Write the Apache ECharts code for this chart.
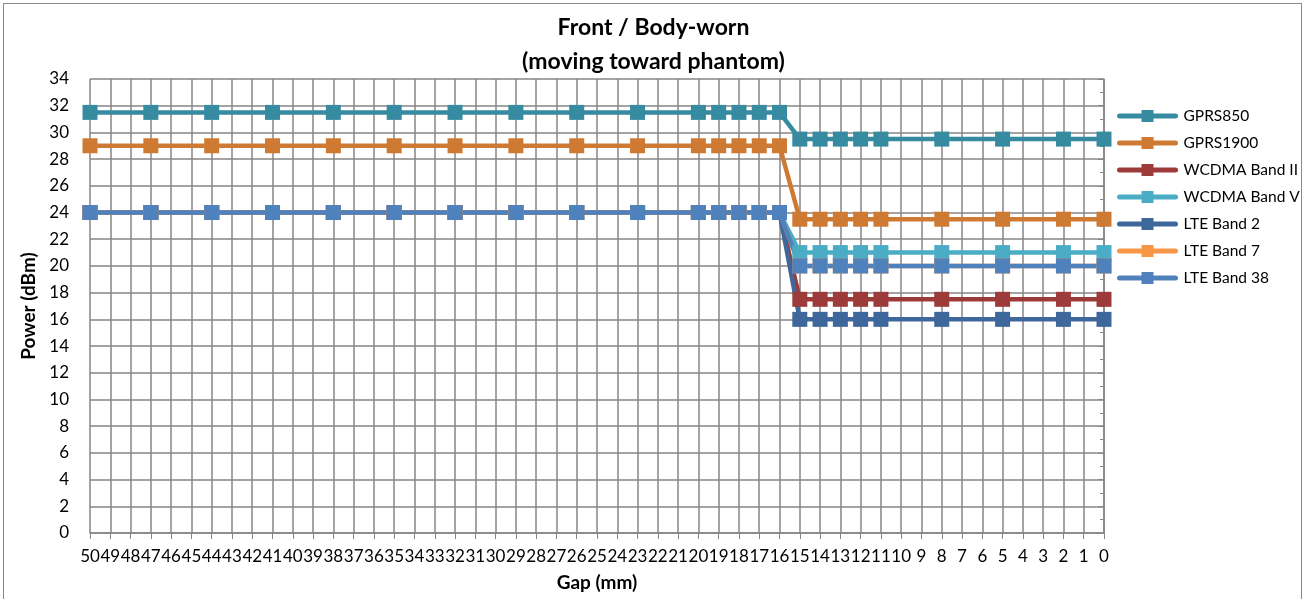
<!DOCTYPE html>
<html>
<head>
<meta charset="utf-8">
<script src="https://cdn.jsdelivr.net/npm/echarts@6/dist/echarts.min.js"></script>
<style>
html,body{margin:0;padding:0;background:#fff;}
#frame{position:absolute;left:3px;top:3px;width:1299px;height:600px;border:1.5px solid #8a8a8a;box-sizing:border-box;}
#chart{position:absolute;left:0;top:0;width:1307px;height:599px;}
</style>
</head>
<body>
<div id="frame"></div>
<div id="chart"></div>
<script>
// Gap values (mm) at which measurements were taken
const gaps = [50, 47, 44, 41, 38, 35, 32, 29, 26, 23, 20, 19, 18, 17, 16, 15, 14, 13, 12, 11, 8, 5, 2, 0];
const seriesNames = ['GPRS850', 'GPRS1900', 'WCDMA Band II', 'WCDMA Band V', 'LTE Band 2', 'LTE Band 7', 'LTE Band 38'];
const gprs850     = [31.5,31.5,31.5,31.5,31.5,31.5,31.5,31.5,31.5,31.5,31.5,31.5,31.5,31.5,31.5,29.5,29.5,29.5,29.5,29.5,29.5,29.5,29.5,29.5];
const gprs1900    = [29,29,29,29,29,29,29,29,29,29,29,29,29,29,29,23.5,23.5,23.5,23.5,23.5,23.5,23.5,23.5,23.5];
const wcdmaBand2  = [24,24,24,24,24,24,24,24,24,24,24,24,24,24,24,17.5,17.5,17.5,17.5,17.5,17.5,17.5,17.5,17.5];
const wcdmaBand5  = [24,24,24,24,24,24,24,24,24,24,24,24,24,24,24,21,21,21,21,21,21,21,21,21];
const lteBand2    = [24,24,24,24,24,24,24,24,24,24,24,24,24,24,24,16,16,16,16,16,16,16,16,16];
const lteBand7    = [24,24,24,24,24,24,24,24,24,24,24,24,24,24,24,20,20,20,20,20,20,20,20,20];
const lteBand38   = [24,24,24,24,24,24,24,24,24,24,24,24,24,24,24,20,20,20,20,20,20,20,20,20];

const allValues = [gprs850, gprs1900, wcdmaBand2, wcdmaBand5, lteBand2, lteBand7, lteBand38];
const colors = ['#378BA0', '#CF7A33', '#9C3B39', '#4BACC6', '#3E679C', '#F79646', '#4F81BD'];

const FONT = 'Lato, "Open Sans", sans-serif';
const chart = echarts.init(document.getElementById('chart'));

const series = seriesNames.map((name, i) => ({
  name: name,
  type: 'line',
  data: gaps.map((g, j) => [g, allValues[i][j]]),
  symbol: 'rect',
  symbolSize: 15,
  lineStyle: { width: 4.5, color: colors[i] },
  itemStyle: { color: colors[i] },
  emphasis: { disabled: true },
  animation: false
}));

chart.setOption({
  animation: false,
  title: {
    text: 'Front / Body-worn\n(moving toward phantom)',
    left: 'center',
    top: 6,
    textStyle: { fontFamily: FONT, fontSize: 23, fontWeight: 'bold', color: '#000', lineHeight: 34 }
  },
  legend: {
    orient: 'vertical',
    left: 1112,
    top: 103,
    itemWidth: 56,
    itemHeight: 15,
    itemGap: 11,
    lineStyle: { width: 5, cap: 'round' },
    textStyle: { fontFamily: FONT, fontSize: 15.5, color: '#000', padding: [0, 0, 0, 3] },
    data: seriesNames
  },
  grid: { left: 90, right: 203, top: 79, bottom: 66, containLabel: false },
  xAxis: {
    type: 'value',
    inverse: true,
    min: 0,
    max: 50,
    interval: 1,
    name: 'Gap (mm)',
    nameLocation: 'middle',
    nameGap: 40,
    nameTextStyle: { fontFamily: FONT, fontSize: 19, fontWeight: 'bold', color: '#000' },
    axisLine: { show: true, lineStyle: { color: '#868686', width: 1.5 } },
    axisTick: { show: true, length: 6, lineStyle: { color: '#868686' } },
    axisLabel: { fontFamily: FONT, fontSize: 17, color: '#000', margin: 15, hideOverlap: false, interval: 0 },
    splitLine: { show: true, lineStyle: { color: '#868686', width: 1.5 } }
  },
  yAxis: {
    type: 'value',
    min: 0,
    max: 34,
    interval: 2,
    name: 'Power (dBm)',
    nameLocation: 'middle',
    nameGap: 48,
    nameTextStyle: { fontFamily: FONT, fontSize: 19, fontWeight: 'bold', color: '#000' },
    axisLine: { show: true, lineStyle: { color: '#868686', width: 1.5 } },
    axisTick: { show: true, length: 6, lineStyle: { color: '#868686' } },
    minorTick: { show: true, splitNumber: 2, length: 4, lineStyle: { color: '#868686' } },
    axisLabel: { fontFamily: FONT, fontSize: 17, color: '#000', margin: 21 },
    splitLine: { show: true, lineStyle: { color: '#868686', width: 1.5 } }
  },
  series: series
});
</script>
</body>
</html>
